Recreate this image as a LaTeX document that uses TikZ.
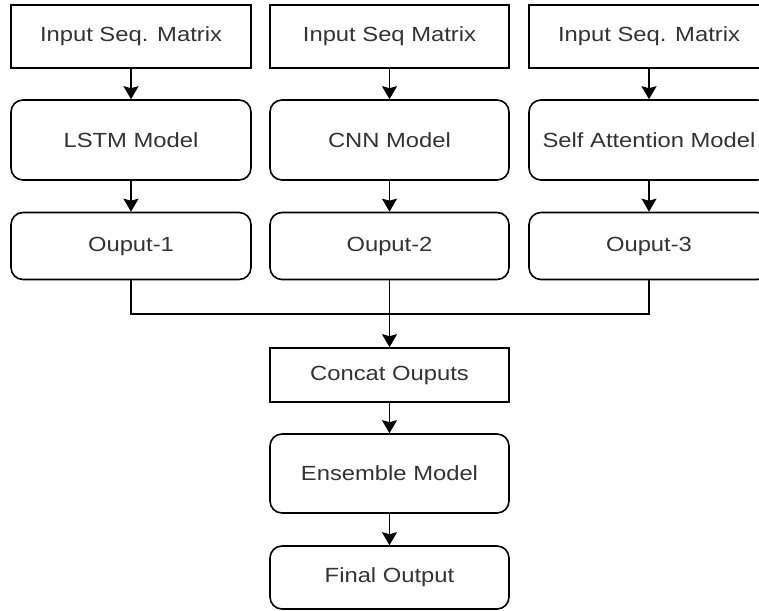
\documentclass[tikz,border=0pt]{standalone}
\usepackage{fontspec}
\setmainfont{Liberation Sans}
\usetikzlibrary{arrows.meta}
\definecolor{txt}{HTML}{333333}
\newcommand{\lbl}[1]{\scalebox{1.16}[1]{#1}}
\tikzset{
  base/.style={draw=black, line width=1.6pt, fill=white, text=txt, minimum width=240pt,
    inner sep=0pt, font=\fontsize{20.5}{24}\selectfont},
  sqbox/.style={base},
  rbox/.style={base, rounded corners=12pt},
  arr/.style={draw=black, line width=1.6pt, -{Stealth[length=13pt,width=15pt,inset=2pt]}},
  ln/.style={draw=black, line width=1.6pt}
}
\begin{document}
\begin{tikzpicture}[x=1pt,y=-1pt]
\useasboundingbox (0,0) rectangle (759,610);
\clip (0,0) rectangle (759,610);
% row 1
\node[sqbox, minimum height=63pt] (in1) at (131,36.5) {\lbl{Input Seq. Matrix}};
\node[sqbox, minimum height=63pt, minimum width=239pt] (in2) at (389.5,36.5) {\lbl{Input Seq Matrix}};
\node[sqbox, minimum height=63pt] (in3) at (649,36.5) {\lbl{Input Seq. Matrix}};
% row 2
\node[rbox, minimum height=80pt] (m1) at (131,140) {\lbl{LSTM Model}};
\node[rbox, minimum height=80pt, minimum width=239pt] (m2) at (389.5,140) {\lbl{CNN Model}};
\node[rbox, minimum height=80pt] (m3) at (649,140) {\lbl{Self Attention Model}};
% row 3
\node[rbox, minimum height=67pt] (o1) at (131,246) {\lbl{Ouput-1}};
\node[rbox, minimum height=67pt, minimum width=239pt] (o2) at (389.5,246) {\lbl{Ouput-2}};
\node[rbox, minimum height=67pt] (o3) at (649,246) {\lbl{Ouput-3}};
% lower column
\node[sqbox, minimum height=54pt, minimum width=239pt] (c) at (389.5,375) {\lbl{Concat Ouputs}};
\node[rbox, minimum height=79pt, minimum width=239pt] (e) at (389.5,473.5) {\lbl{Ensemble Model}};
\node[rbox, minimum height=63pt, minimum width=239pt] (f) at (389.5,577.5) {\lbl{Final Output}};
\coordinate (j) at (389.5,314);
% connectors
\draw[arr] (in1) -- (m1);
\draw[arr] (in2) -- (m2);
\draw[arr] (in3) -- (m3);
\draw[arr] (m1) -- (o1);
\draw[arr] (m2) -- (o2);
\draw[arr] (m3) -- (o3);
\draw[ln] (o1.south) |- (j) -| (o3.south);
\draw[arr] (o2) -- (c);
\draw[arr] (c) -- (e);
\draw[arr] (e) -- (f);
\end{tikzpicture}
\end{document}
